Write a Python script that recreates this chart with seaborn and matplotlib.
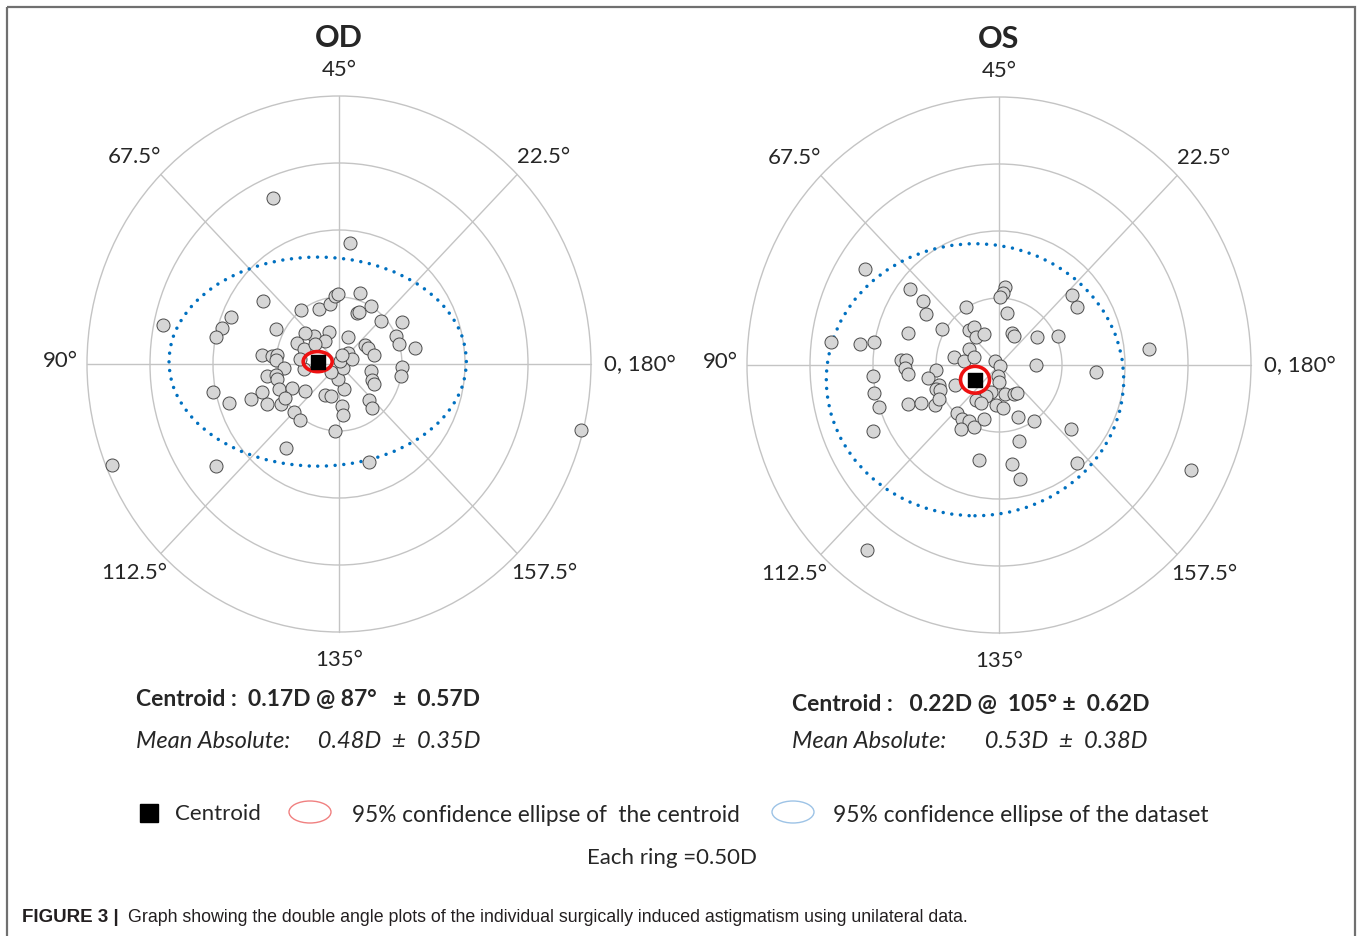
import matplotlib
matplotlib.use("Agg")
import matplotlib.pyplot as plt
from matplotlib.patches import Circle, Ellipse, Rectangle
import seaborn as sns
import numpy as np
import pandas as pd

# double angle vectors of SIA (D): x = M*cos(2*axis), y = M*sin(2*axis)
od_x = [-0.52, 0.09, -0.60, -1.40, -0.86, -0.93, -0.98, -0.50, -0.30, -0.16,
        -0.07, -0.03, -0.01, 0.17, 0.25, 0.14, 0.16, 0.33, 0.50, 0.45,
        0.48, 0.60, 0.21, 0.23, 0.28, 0.07, -0.08, -0.20, -0.11, -0.27,
        -0.33, -0.28, -0.19, -0.61, -0.53, -0.49, -0.50, -0.44, -0.57, -0.50,
        -0.49, -0.48, -0.37, -0.27, -0.61, -0.70, -0.57, -0.46, -0.43, -1.00,
        -0.87, -0.36, -0.31, -0.11, -0.06, 0.04, -0.01, 0.03, 0.01, 0.07,
        0.10, 0.02, -0.06, -0.28, -0.31, 0.02, 0.03, -0.03, 0.24, 0.26,
        0.25, 0.26, 0.28, 0.50, 0.49, -0.42, -0.98, 0.24, -1.80, 1.92]
od_y = [1.24, 0.90, 0.47, 0.29, 0.35, 0.27, 0.20, 0.26, 0.40, 0.41,
        0.45, 0.51, 0.52, 0.53, 0.43, 0.38, 0.39, 0.32, 0.31, 0.21,
        0.15, 0.12, 0.14, 0.12, 0.07, 0.20, 0.24, 0.21, 0.17, 0.23,
        0.16, 0.11, 0.15, 0.07, 0.06, 0.07, 0.03, -0.03, -0.09, -0.08,
        -0.11, -0.19, -0.18, -0.20, -0.21, -0.26, -0.30, -0.30, -0.25, -0.21,
        -0.29, -0.36, -0.42, -0.23, -0.24, -0.19, -0.11, -0.03, 0.02, 0.08,
        0.04, 0.07, -0.06, -0.04, 0.04, -0.31, -0.38, -0.50, -0.27, -0.33,
        -0.05, -0.12, -0.15, -0.02, -0.09, -0.63, -0.76, -0.73, -0.75, -0.49]

os_x = [-1.06, -0.71, -0.60, -0.58, -0.26, 0.05, 0.03, 0.01, 0.06, 0.58,
        0.62, 1.19, -1.33, -1.10, -0.99, -0.72, -0.45, -0.24, -0.20, -0.18,
        -0.12, 0.10, 0.12, 0.30, 0.47, -0.24, -0.36, -0.28, -0.20, -0.03,
        0.01, 0.29, 0.77, -0.78, -0.74, -0.75, -0.72, -1.00, -0.50, -0.56,
        -0.48, -0.50, -0.47, -0.35, -0.99, -0.95, -0.72, -0.62, -0.51, -0.48,
        -0.01, 0.00, -0.06, -0.10, -0.18, -0.14, -0.02, 0.03, 0.05, 0.12,
        0.14, -0.33, -0.29, -0.24, -0.20, -0.30, -0.12, 0.15, 0.28, 0.57,
        0.16, -0.16, 0.10, 0.17, 0.62, 1.52, -1.00, -1.05]
os_y = [0.72, 0.57, 0.48, 0.38, 0.43, 0.58, 0.54, 0.51, 0.39, 0.52,
        0.43, 0.12, 0.17, 0.16, 0.17, 0.24, 0.27, 0.26, 0.28, 0.21,
        0.23, 0.24, 0.22, 0.21, 0.22, 0.12, 0.06, 0.03, 0.06, 0.03,
        -0.01, 0.00, -0.05, 0.04, 0.04, -0.02, -0.07, -0.08, -0.04, -0.10,
        -0.15, -0.18, -0.19, -0.15, -0.21, -0.31, -0.29, -0.28, -0.30, -0.25,
        -0.08, -0.13, -0.20, -0.23, -0.26, -0.28, -0.30, -0.32, -0.22, -0.22,
        -0.21, -0.36, -0.40, -0.42, -0.46, -0.48, -0.40, -0.39, -0.42, -0.48,
        -0.57, -0.71, -0.74, -0.85, -0.73, -0.78, -0.49, -1.38]

eyes = ["OD", "OS"]
centroid_mag = [0.17, 0.22]      # D
centroid_axis = [87, 105]        # deg
# full width / height (D) of the 95% ellipses
ci_centroid_w = [0.23, 0.23]
ci_centroid_h = [0.15, 0.20]
ci_data_w = [2.36, 2.36]
ci_data_h = [1.56, 2.03]

ring_radii = [0.5, 1.0, 1.5, 2.0]
spoke_labels = ["0, 180°", "22.5°", "45°", "67.5°", "90°", "112.5°", "135°", "157.5°"]

centroid_txt = ["Centroid :  0.17D @ 87°   ±  0.57D", "Centroid :   0.22D @  105° ±  0.62D"]
mean_abs_txt = ["Mean Absolute:     0.48D  ±  0.35D", "Mean Absolute:       0.53D  ±  0.38D"]

sns.set_style("white")
plt.rcParams['font.family'] = ['Lato', 'DejaVu Sans']

W, H = 1357, 937
fig = plt.figure(figsize=(W / 100, H / 100), dpi=100)

ov = fig.add_axes([0, 0, 1, 1])
ov.set_xlim(0, W)
ov.set_ylim(H, 0)
ov.axis('off')

sx, sy = 126.0, 134.0   # px per D
lim = 2.05
centers = [(339, 365), (999, 366)]
pts = [pd.DataFrame({"x": od_x, "y": od_y}), pd.DataFrame({"x": os_x, "y": os_y})]

for k, eye in enumerate(eyes):
    cx, cy = centers[k]
    hw, hh = lim * sx, lim * sy
    ax = fig.add_axes([(cx - hw) / W, (H - cy - hh) / H, 2 * hw / W, 2 * hh / H])

    for r in ring_radii:
        ax.add_patch(Circle((0, 0), r, fill=False, edgecolor='#c4c4c4', lw=1, zorder=1))
    for i, lab in enumerate(spoke_labels):
        a = np.deg2rad(45 * i)
        R = ring_radii[-1]
        ax.plot([0, R * np.cos(a)], [0, R * np.sin(a)], color='#c4c4c4', lw=1, zorder=1)
        if i % 2 == 0:
            if i == 0:
                ax.text(2.1, 0.0, lab, ha='left', va='center', fontsize=16)
            elif i == 4:
                ax.text(-2.07, 0.03, lab, ha='right', va='center', fontsize=16)
            else:
                ax.text(0, 2.2 * np.sin(a), lab, ha='center', va='center', fontsize=16)
        else:
            ax.text(2.3 * np.cos(a), 2.2 * np.sin(a), lab, ha='center', va='center', fontsize=16)

    ax.text(0, 2.44, eye, ha='center', va='center', fontsize=22, fontweight='bold')

    ang = np.deg2rad(2 * centroid_axis[k])
    c = (centroid_mag[k] * np.cos(ang), centroid_mag[k] * np.sin(ang))

    ax.add_patch(Ellipse(c, ci_data_w[k], ci_data_h[k], fill=False, edgecolor='#0070C0',
                         lw=2.5, linestyle=(0, (0.01, 2.5)), capstyle='round', zorder=2))
    sns.scatterplot(data=pts[k], x="x", y="y", ax=ax, s=88, color='#d6d6d6',
                    edgecolor='#4a4a4a', linewidth=0.7, legend=False, zorder=3, clip_on=False)
    ax.add_patch(Ellipse(c, ci_centroid_w[k], ci_centroid_h[k], fill=False, edgecolor='#ee1111',
                         lw=2.6, zorder=4))
    ax.scatter([c[0]], [c[1]], marker='s', s=115, color='black', zorder=5)
    ax.set_xlim(-lim, lim)
    ax.set_ylim(-lim, lim)
    ax.axis('off')

# stats text
ov.text(136, 700, centroid_txt[0], fontsize=16.5, fontweight='bold', va='center')
ov.text(136, 742, mean_abs_txt[0], fontsize=17, style='italic', va='center')
ov.text(792, 705, centroid_txt[1], fontsize=16.5, fontweight='bold', va='center')
ov.text(792, 742, mean_abs_txt[1], fontsize=17, style='italic', va='center')

# legend row
ov.add_patch(Rectangle((140, 805), 18, 18, color='black'))
ov.text(175, 814, "Centroid", fontsize=16, va='center')
ov.add_patch(Ellipse((310, 813), 42, 22, fill=False, edgecolor='#f08080', lw=1))
ov.text(352, 816, "95% confidence ellipse of  the centroid", fontsize=16.3, va='center')
ov.add_patch(Ellipse((793, 813), 42, 22, fill=False, edgecolor='#9dc3e6', lw=1))
ov.text(833, 816, "95% confidence ellipse of the dataset", fontsize=16.4, va='center')
ov.text(672, 858, "Each ring =0.50D", fontsize=16, ha='center', va='center')

# caption + frame
ov.text(22, 918, "FIGURE 3 |", fontsize=13.5, fontweight='bold', va='center',
        family=['Liberation Sans Narrow', 'Liberation Sans'], color='#231f20')
ov.text(128, 918, "Graph showing the double angle plots of the individual surgically induced "
        "astigmatism using unilateral data.", fontsize=12.8, va='center',
        family=['Liberation Sans Narrow', 'Liberation Sans'], color='#231f20')
ov.add_patch(Rectangle((7, 8), 1348, 960, fill=False, edgecolor='#707070', lw=1.6, clip_on=False))

fig.savefig("out.png", dpi=100)
